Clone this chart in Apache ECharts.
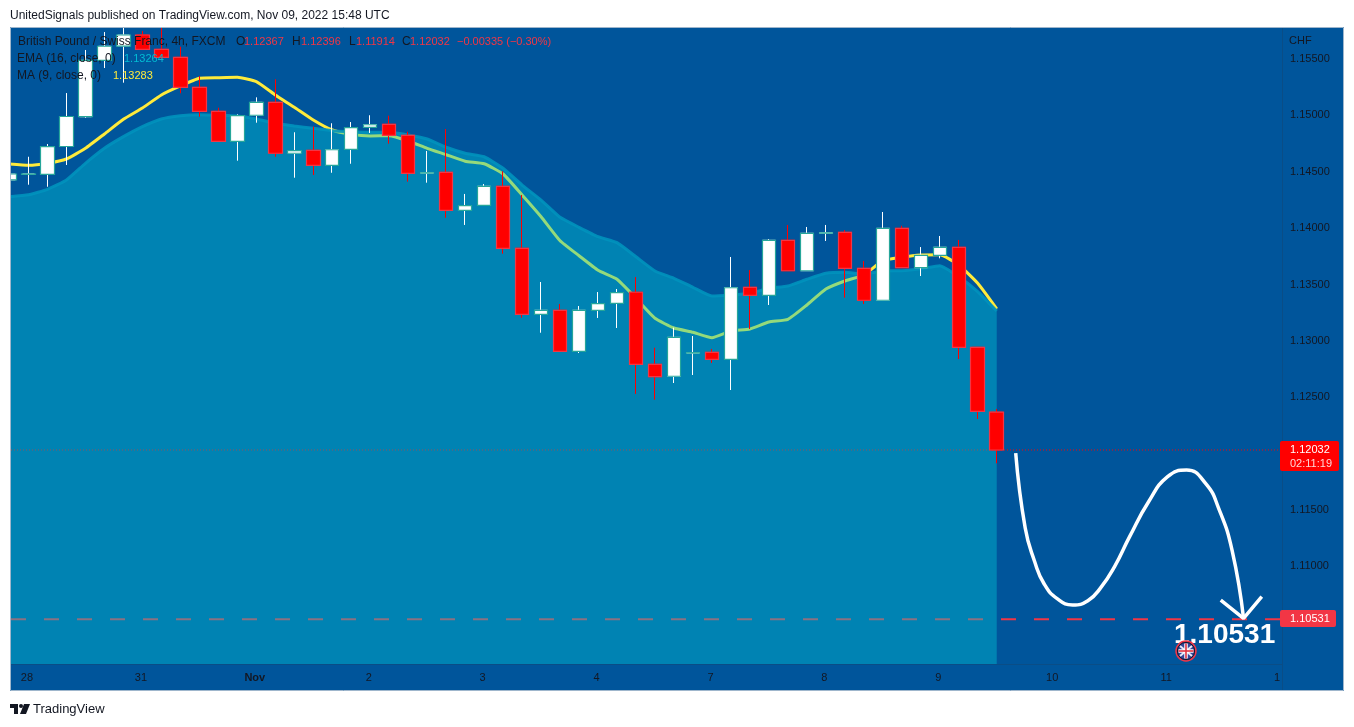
<!DOCTYPE html>
<html><head><meta charset="utf-8">
<style>html,body{margin:0;padding:0;background:#fff}#c{width:1354px;height:727px}</style>
<script src="https://cdn.jsdelivr.net/npm/echarts@6/dist/echarts.min.js"></script>
</head><body><div id="c"></div>
<script>
// time-axis tick labels by candle slot
const dayTicks = {1:'28',7:'31',13:'Nov',19:'2',25:'3',31:'4',37:'7',43:'8',49:'9',55:'10',61:'11',67:'1'};
// [open, close, low, high]
const candles = [
[1.14427,1.14480,1.14418,1.14480],[1.14477,1.14480,1.14385,1.14633],[1.14477,1.14722,1.14367,1.14746],[1.14724,1.14990,1.14560,1.15198],
[1.14988,1.15488,1.14977,1.15580],[1.15488,1.15613,1.15420,1.15739],[1.15615,1.15713,1.15290,1.15802],[1.15713,1.15586,1.15580,1.15748],
[1.15586,1.15515,1.15491,1.15802],[1.15515,1.15249,1.15196,1.15609],[1.15249,1.15036,1.14988,1.15349],[1.15036,1.14770,1.14770,1.15068],
[1.14770,1.14997,1.14598,1.15009],[1.15001,1.15116,1.14935,1.15160],[1.15116,1.14664,1.14633,1.15320],[1.14664,1.14687,1.14447,1.14850],
[1.14690,1.14557,1.14471,1.14900],[1.14557,1.14695,1.14491,1.14930],[1.14699,1.14891,1.14571,1.14941],[1.14894,1.14917,1.14844,1.15001],
[1.14921,1.14823,1.14749,1.14997],[1.14823,1.14486,1.14412,1.14855],[1.14488,1.14491,1.14403,1.14684],[1.14495,1.14158,1.14092,1.14879],
[1.14158,1.14199,1.14028,1.14303],[1.14202,1.14371,1.14202,1.14391],[1.14371,1.13821,1.13773,1.14504],[1.13821,1.13235,1.13205,1.14294],
[1.13235,1.13271,1.13072,1.13522],[1.13271,1.12907,1.12907,1.13327],[1.12907,1.13271,1.12892,1.13309],[1.13271,1.13330,1.13203,1.13433],
[1.13333,1.13427,1.13114,1.13460],[1.13431,1.12792,1.12529,1.13566],[1.12792,1.12682,1.12478,1.12939],[1.12686,1.13031,1.12626,1.13117],
[1.12892,1.12895,1.12697,1.13043],[1.12898,1.12836,1.12804,1.12928],[1.12836,1.13471,1.12564,1.13744],[1.13475,1.13404,1.13105,1.13628],
[1.13404,1.13892,1.13318,1.13903],[1.13892,1.13622,1.13622,1.14028],[1.13622,1.13954,1.13622,1.14010],[1.13955,1.13958,1.13886,1.14028],
[1.13963,1.13643,1.13383,1.13983],[1.13643,1.13360,1.13327,1.13708],[1.13360,1.13998,1.13360,1.14143],[1.13998,1.13649,1.13649,1.14021],
[1.13649,1.13759,1.13575,1.13832],[1.13759,1.13830,1.13732,1.13930],[1.13830,1.12943,1.12839,1.13895],[1.12943,1.12375,1.12307,1.12943],
[1.12367,1.12032,1.11914,1.12396]];
const maValues = [1.14569,1.14557,1.14575,1.14613,1.14708,1.14835,1.14965,1.15065,1.15181,1.15261,1.15329,1.15334,1.15338,1.15299,1.15181,1.15072,1.14959,1.14870,1.14832,1.14817,1.14820,1.14773,1.14708,1.14651,1.14593,1.14571,1.14480,1.14294,1.14101,1.13888,1.13755,1.13626,1.13546,1.13377,1.13200,1.13114,1.13076,1.13028,1.13087,1.13105,1.13167,1.13191,1.13318,1.13460,1.13531,1.13584,1.13711,1.13741,1.13761,1.13764,1.13673,1.13510,1.13283];
const emaValues = [1.14279,1.14296,1.14344,1.14427,1.14575,1.14708,1.14811,1.14900,1.14968,1.14997,1.15006,1.15001,1.14994,1.14968,1.14930,1.14906,1.14885,1.14864,1.14855,1.14850,1.14850,1.14826,1.14790,1.14717,1.14664,1.14633,1.14531,1.14382,1.14249,1.14096,1.14007,1.13924,1.13871,1.13746,1.13620,1.13555,1.13475,1.13398,1.13407,1.13422,1.13466,1.13487,1.13546,1.13599,1.13608,1.13593,1.13620,1.13622,1.13640,1.13667,1.13569,1.13436,1.13264];
const lastPrice = 1.12032, targetPrice = 1.10531;
// projected path: [slot, price]
const pathPoints = [[53,1.12005],[53.5,1.1134],[54,1.11041],[54.5,1.10843],[55.2,1.10711],[56,1.10657],[56.8,1.10695],[57.5,1.10815],[58.2,1.10995],[59,1.11263],[60,1.11573],[61,1.11795],[62,1.11854],[63,1.11736],[63.7,1.11510],[64.4,1.11140],[65,1.10539]];
const arrowHead = [[63.8,1.10701],[65,1.10539],[65.96,1.10731]];

const BG='#00559b', FONT='"Liberation Sans",Arial,sans-serif', INK='#131722';
const categories = Array.from({length:68},(_,i)=>dayTicks[i]||'');
const bodies = candles.map(c=>[c[0],c[1],Math.min(c[0],c[1]),Math.max(c[0],c[1])]);

function txt(x,y,s,fill,size,extra){return {type:'text',x,y,z:60,silent:true,style:Object.assign({text:s,fill:fill||INK,font:(size||11)+'px '+FONT,textVerticalAlign:'middle',verticalAlign:'middle'},extra||{})};}
function rect(x,y,w,h,fill,z,r){return {type:'rect',z:z||50,silent:true,shape:{x,y,width:w,height:h,r:r||0},style:{fill}};}
function ln(x1,y1,x2,y2,stroke,w,z){return {type:'line',z:z||61,silent:true,shape:{x1,y1,x2,y2},style:{stroke,lineWidth:w||1}};}

const flagX=1186,flagY=651;
const flag=[
 {type:'circle',z:62,silent:true,shape:{cx:flagX,cy:flagY,r:10},style:{fill:'#2c3f8c',stroke:'#f23645',lineWidth:1.5}},
 {type:'circle',z:62,silent:true,shape:{cx:flagX,cy:flagY,r:8.6},style:{fill:'#34479a',stroke:'#14182c',lineWidth:1}},
 ln(flagX-6,flagY-5,flagX+6,flagY+5,'#e8e8f4',2,63),ln(flagX-6,flagY+5,flagX+6,flagY-5,'#e8e8f4',2,63),
 ln(flagX-7.5,flagY,flagX+7.5,flagY,'#ffffff',3.5,63),ln(flagX,flagY-7.5,flagX,flagY+7.5,'#ffffff',3.5,63),
 ln(flagX-7.5,flagY,flagX+7.5,flagY,'#e0303f',1.6,64),ln(flagX,flagY-7.5,flagX,flagY+7.5,'#e0303f',1.6,64)
];
const logo=[
 {type:'polygon',z:60,silent:true,shape:{points:[[10,704],[18,704],[18,714],[14,714],[14,708],[10,708]]},style:{fill:'#131722'}},
 {type:'circle',z:60,silent:true,shape:{cx:21,cy:706,r:2},style:{fill:'#131722'}},
 {type:'polygon',z:60,silent:true,shape:{points:[[24,704],[30,704],[26,714],[20,714]]},style:{fill:'#131722'}}
];

const elements=[
 rect(0,0,1354,27,'#fff'),rect(0,691,1354,36,'#fff'),rect(0,0,10,727,'#fff'),rect(1344,0,10,727,'#fff'),
 rect(10,664,1334,27,BG),rect(1282,27,62,664,BG),
 ln(10.5,664.5,1282,664.5,'#0a4d86',1,51),ln(1282.5,27,1282.5,691,'#0a4d86',1,51),
 {type:'rect',z:59,silent:true,shape:{x:10.5,y:27.5,width:1333,height:663},style:{fill:'none',stroke:'#9fb6cc',lineWidth:1}},
 txt(10,15.5,'UnitedSignals published on TradingView.com, Nov 09, 2022 15:48 UTC',INK,12),
 txt(33,709.5,'TradingView',INK,13),
 txt(18,42,'British Pound / Swiss Franc, 4h, FXCM',INK,12),
 txt(236,42,'O',INK,12),txt(244,42,'1.12367','#f23645'),
 txt(292,42,'H',INK,12),txt(301,42,'1.12396','#f23645'),
 txt(349,42,'L',INK,12),txt(356,42,'1.11914','#f23645'),
 txt(402,42,'C',INK,12),txt(410,42,'1.12032','#f23645'),
 txt(457,42,'−0.00335 (−0.30%)','#f23645'),
 txt(17,59,'EMA (16, close, 0)',INK,12),txt(124,59,'1.13264','#00bcd4'),
 txt(17,76,'MA (9, close, 0)',INK,12),txt(113,76,'1.13283','#ffeb3b'),
 txt(1289,40.5,'CHF'),
 rect(1280,441,59,30,'#ff0000',58,2),
 txt(1290,450,'1.12032','#fff'),txt(1290,464,'02:11:19','#ffd6d6'),
 rect(1280,610,56,17,'#f23645',58,2),
 txt(1290,619,'1.10531','#fff'),
 txt(1174,635,'1.10531','#fff',28,{font:'bold 28px '+FONT})
].concat(flag,logo);

const chart=echarts.init(document.getElementById('c'),null,{renderer:'canvas'});
chart.setOption({
 animation:false,
 backgroundColor:BG,
 grid:{left:-1,top:2.63,width:1292,height:676.44,containLabel:false},
 xAxis:[
  {type:'category',data:categories,z:55,boundaryGap:true,
   axisLine:{show:false},axisTick:{show:false},splitLine:{show:false},
   axisLabel:{interval:(i,v)=>v!=='',margin:-7,color:INK,fontFamily:FONT,fontSize:11,padding:[0,3,0,0],hideOverlap:false,
     formatter:v=>v==='Nov'?'{b|Nov}':(v==='1'?'{e|1}':v),
     rich:{b:{fontWeight:'bold',color:INK,fontFamily:FONT,fontSize:11},e:{color:INK,fontFamily:FONT,fontSize:11,padding:[0,6,0,0]}}}},
  {type:'value',min:-0.5,max:67.5,show:false,splitLine:{show:false}}
 ],
 yAxis:{type:'value',min:1.10,max:1.16,interval:0.005,position:'right',z:55,scale:true,
   axisLine:{show:false},axisTick:{show:false},splitLine:{show:false},
   axisLabel:{margin:-1,color:INK,fontFamily:FONT,fontSize:11,padding:[2,0,0,0],
     formatter:v=>{const s=v.toFixed(5);return ['1.16000','1.10000','1.10500','1.12000'].includes(s)?'':s;}}},
 graphic:{elements},
 series:[
  {type:'line',name:'Target',xAxisIndex:1,z:1,symbol:'none',silent:true,
   data:[[0.08,targetPrice],[67.03,targetPrice]],lineStyle:{color:'#f23645',width:2,type:[15,18]}},
  {type:'line',name:'Last',xAxisIndex:1,z:1,symbol:'none',silent:true,
   data:[[0.08,lastPrice],[67.03,lastPrice]],lineStyle:{color:'#ff0000',width:1,type:[1,2]}},
  {type:'line',name:'MA',xAxisIndex:0,z:2,symbol:'none',silent:true,data:maValues,smooth:0.15,lineStyle:{color:'#ffeb3b',width:3}},
  {type:'line',name:'EMA',xAxisIndex:0,z:3,symbol:'none',silent:true,data:emaValues,smooth:0.15,
   lineStyle:{color:'#0092bd',width:3,opacity:0.9},
   areaStyle:{color:'rgba(0,195,212,0.42)',origin:'start',opacity:1}},
  {type:'candlestick',name:'Wicks',xAxisIndex:0,z:4,silent:true,barWidth:13,data:candles,
   itemStyle:{color:'#ffffff',color0:'#ff0000',borderColor:'#ffffff',borderColor0:'#ff0000',borderWidth:1}},
  {type:'candlestick',name:'Bodies',xAxisIndex:0,z:5,silent:true,barWidth:14,data:bodies,
   itemStyle:{color:'#ffffff',color0:'#ff0000',borderColor:'#26a69a',borderColor0:'#f23645',borderWidth:1.2}},
  {type:'line',name:'Path',xAxisIndex:1,z:6,symbol:'none',silent:true,smooth:0.5,data:pathPoints,lineStyle:{color:'#ffffff',width:3.5}},
  {type:'line',name:'Head',xAxisIndex:1,z:6,symbol:'none',silent:true,data:arrowHead,lineStyle:{color:'#ffffff',width:3.5}}
 ]
});
</script></body></html>
